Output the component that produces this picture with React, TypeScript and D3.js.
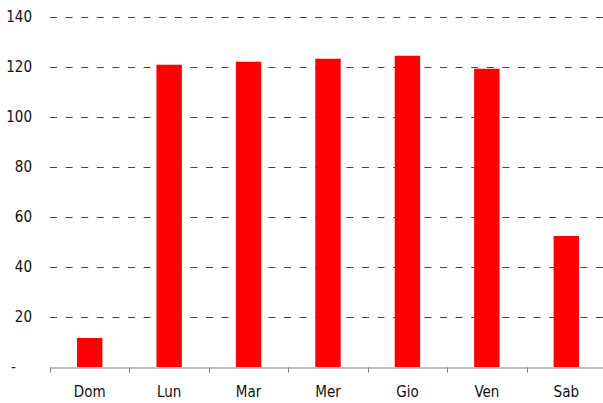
import { useEffect, useRef } from 'react'
import * as d3 from 'd3'

const days = ['Dom', 'Lun', 'Mar', 'Mer', 'Gio', 'Ven', 'Sab']
const counts = [11.6, 120.9, 122.1, 123.3, 124.5, 119.3, 52.4]
const yTicks = [0, 20, 40, 60, 80, 100, 120, 140]

const WIDTH = 603
const HEIGHT = 403
const FONT = '"DejaVu Sans Condensed", "DejaVu Sans", Verdana, sans-serif'

export default function App() {
  const svgRef = useRef<SVGSVGElement>(null)

  useEffect(() => {
    const svg = d3.select(svgRef.current!)
    svg.selectAll('*').remove()

    const margin = { top: 17, right: -3, bottom: 36, left: 50 }
    const innerW = WIDTH - margin.left - margin.right
    const innerH = HEIGHT - margin.top - margin.bottom

    const x = d3.scaleBand<string>().domain(days).range([0, innerW]).paddingInner(0.68).paddingOuter(0.34)
    const xTicks = d3.scaleBand<string>().domain(days).range([0, innerW])
    const y = d3.scaleLinear().domain([0, 140]).range([innerH, 0])

    const g = svg.append('g').attr('transform', `translate(${margin.left},${margin.top})`)

    // Dashed gridlines
    g.append('g')
      .selectAll('line')
      .data(yTicks.filter(d => d > 0))
      .join('line')
      .attr('x1', 0)
      .attr('x2', innerW)
      .attr('y1', d => Math.round(y(d)) + 0.5)
      .attr('y2', d => Math.round(y(d)) + 0.5)
      .style('stroke', '#444')
      .style('stroke-width', '1')
      .style('stroke-dasharray', '7 8.6')

    // Bars
    g.append('g')
      .selectAll('rect')
      .data(days)
      .join('rect')
      .attr('x', d => x(d)!)
      .attr('width', x.bandwidth())
      .attr('y', (_, i) => y(counts[i]))
      .attr('height', (_, i) => innerH - y(counts[i]))
      .style('fill', '#ff0000')

    // Y axis (labels only)
    const yAxisG = g.append('g')
    yAxisG.call(
      d3.axisLeft(y)
        .tickValues(yTicks)
        .tickSize(0)
        .tickPadding(18)
        .tickFormat(d => (+d === 0 ? '-' : `${d}`)),
    )
    yAxisG.select('.domain').remove()
    yAxisG.selectAll('text')
      .style('fill', '#111')
      .style('font-size', '15px')
      .style('font-family', FONT)
    yAxisG.selectAll<SVGTextElement, number>('.tick text')
      .filter(d => d === 0)
      .attr('x', -39)
      .attr('text-anchor', 'start')

    // X axis
    const xAxisG = g.append('g').attr('transform', `translate(0,${innerH + 0.5})`)
    xAxisG.call(d3.axisBottom(xTicks).tickSize(0).tickPadding(19))
    xAxisG.select('.domain').style('stroke', '#808080')
    xAxisG.selectAll('text')
      .style('fill', '#111')
      .style('font-size', '15px')
      .style('font-family', FONT)

    // Category separator ticks
    xAxisG.append('g')
      .selectAll('line')
      .data(days)
      .join('line')
      .attr('x1', d => Math.round(xTicks(d)!) + 0.5)
      .attr('x2', d => Math.round(xTicks(d)!) + 0.5)
      .attr('y1', 0)
      .attr('y2', 5)
      .style('stroke', '#808080')
  }, [])

  return (
    <div style={{ position: 'fixed', left: 0, top: 0, width: WIDTH, height: HEIGHT, background: '#fff' }}>
      <svg ref={svgRef} width={WIDTH} height={HEIGHT} style={{ display: 'block' }} />
    </div>
  )
}
